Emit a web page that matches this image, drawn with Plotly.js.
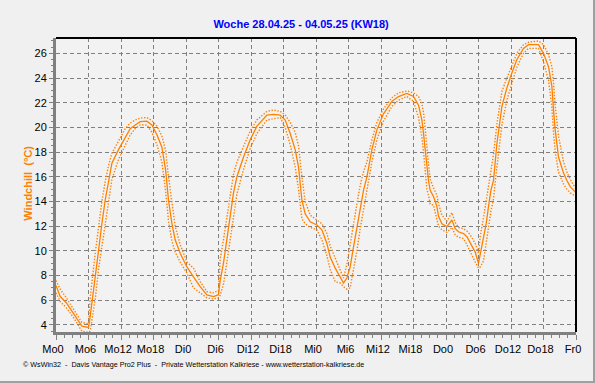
<!DOCTYPE html>
<html>
<head>
<meta charset="utf-8">
<script src="https://cdn.plot.ly/plotly-3.0.1.min.js"></script>
<style>
html,body{margin:0;padding:0;background:#f0f0f0;}
#wrap{position:relative;width:595px;height:383px;overflow:hidden;}
#chart{width:595px;height:383px;}
#frame{position:absolute;left:0;top:0;width:593px;height:381px;border-right:2px solid #a0a0a0;border-bottom:2px solid #a0a0a0;pointer-events:none;}
</style>
</head>
<body>
<div id="wrap"><div id="chart"></div><div id="frame"></div></div>
<script>
// hours since Monday 00:00
const hours = [0.0,0.78,1.9,3.23,4.78,6.0,6.31,7.24,7.85,8.47,9.08,9.69,10.32,11.54,12.78,13.7,14.62,15.54,16.78,17.7,18.63,19.55,20.25,20.77,21.4,22.0,22.93,24.17,25.38,26.62,27.86,29.08,30.0,30.31,30.92,31.55,32.16,32.77,33.4,34.62,35.85,37.09,38.94,40.16,41.39,42.31,43.24,44.16,44.77,45.4,46.0,46.93,48.16,49.09,50.01,50.62,51.55,52.47,53.08,53.7,54.31,54.92,55.55,56.16,56.77,57.4,58.32,59.24,60.46,62.01,63.23,64.78,66.0,66.93,67.55,67.85,68.16,68.47,68.77,69.08,69.69,70.32,70.62,71.24,72.16,73.09,73.7,74.31,75.23,75.86,76.47,77.39,78.0,78.33,78.93,79.42,79.85,80.29,80.77,81.4,82.32,83.24,84.16,85.09,86.31,87.23,89.08,90.0,90.93,91.55,91.85,92.16,92.77,93.7,94.32,94.93,96.0];
const windchill = [7.2,6.3,5.8,4.95,3.9,3.8,4.7,7.9,10.3,12.2,14.1,15.7,17.1,18.2,19.25,19.9,20.2,20.46,20.5,20.2,19.4,18.4,16.5,14.1,12.2,10.9,9.8,8.7,7.9,7.1,6.43,6.3,6.45,7.6,9.0,10.9,12.8,14.7,16.0,17.6,19.0,20.1,21.0,21.06,21.0,20.6,19.5,18.2,16.8,14.1,13.0,12.36,12.1,11.7,10.6,9.5,8.6,7.9,7.4,7.8,8.7,10.3,11.9,13.6,14.9,16.0,18.2,19.8,21.1,22.1,22.5,22.75,22.5,21.8,20.6,19.5,18.2,16.5,15.7,14.9,14.4,13.6,12.8,12.2,11.96,12.5,11.8,11.55,11.4,11.15,10.6,9.9,9.0,9.7,10.9,12.2,13.6,14.9,15.7,18.7,21.7,23.2,24.4,25.5,26.4,26.7,26.7,26.0,24.9,23.3,21.4,19.8,17.6,16.3,15.7,15.2,14.7];
const windchillMax = [7.6,6.9,6.2,5.3,4.2,4.1,6.2,9.8,12.1,14.0,15.6,16.9,17.9,18.9,19.9,20.35,20.6,20.75,20.8,20.55,20.1,19.3,18.1,16.0,13.8,12.0,10.5,9.1,8.6,7.5,6.7,6.6,6.8,9.3,10.9,12.7,14.5,16.2,17.2,18.5,19.7,20.6,21.3,21.4,21.3,21.0,20.4,19.6,18.5,16.0,14.0,12.9,12.5,12.2,11.4,10.4,9.4,8.4,7.8,8.9,10.6,12.2,13.8,15.3,16.4,17.2,19.0,20.4,21.5,22.4,22.8,22.95,22.8,22.5,21.9,21.2,20.0,18.5,17.0,15.8,15.1,14.5,13.8,12.9,12.4,13.1,12.3,11.9,11.8,11.6,11.3,10.6,9.8,11.2,12.7,14.1,15.4,16.6,17.8,20.3,22.9,24.0,25.0,26.0,26.7,26.9,27.0,26.7,25.9,24.9,23.6,21.8,19.3,17.2,16.4,15.8,15.0];
const windchillMin = [6.6,5.9,5.4,4.6,3.5,3.4,3.5,6.1,8.5,10.4,12.4,14.2,15.8,17.4,18.6,19.4,19.9,20.2,20.2,19.6,18.6,17.2,14.8,12.4,10.8,9.9,9.1,8.2,7.0,6.6,6.2,6.1,6.2,6.4,7.3,9.1,10.9,12.9,14.6,16.6,18.3,19.5,20.6,20.7,20.8,20.0,18.6,16.8,15.0,12.6,12.2,11.9,11.7,10.9,9.6,8.5,7.5,7.4,7.1,6.9,7.0,8.5,10.0,11.8,13.3,14.8,17.2,19.0,20.5,21.7,22.2,22.5,22.1,20.8,19.2,18.0,16.5,15.0,14.5,13.8,13.7,12.5,12.0,11.7,11.5,11.9,11.3,11.1,11.0,10.5,9.9,9.1,8.6,8.7,9.2,10.5,11.9,13.2,14.2,16.8,20.2,22.2,23.6,24.9,26.0,26.4,26.4,25.3,23.8,21.6,19.6,18.0,16.4,15.4,15.0,14.7,14.4];
const tickHours = [0,6,12,18,24,30,36,42,48,54,60,66,72,78,84,90,96];
const tickLabels = ["Mo0","Mo6","Mo12","Mo18","Di0","Di6","Di12","Di18","Mi0","Mi6","Mi12","Mi18","Do0","Do6","Do12","Do18","Fr0"];
const yTicks = [4,6,8,10,12,14,16,18,20,22,24,26];

const orange = '#ff8000';
const traces = [
  {x: hours, y: windchillMax, mode:'lines', line:{color:orange, width:1.4, dash:'1.4px,1.6px'}, hoverinfo:'skip'},
  {x: hours, y: windchillMin, mode:'lines', line:{color:orange, width:1.4, dash:'1.4px,1.6px'}, hoverinfo:'skip'},
  {x: hours, y: windchill, mode:'lines', line:{color:orange, width:1.3}}
];
const layout = {
  width:595, height:383,
  paper_bgcolor:'#f0f0f0', plot_bgcolor:'#f2f2f2',
  showlegend:false,
  margin:{l:56, r:19, t:38, b:51, pad:0},
  font:{family:'Liberation Sans, Arial, sans-serif', size:11, color:'#000'},
  title:{text:'<b>Woche 28.04.25 - 04.05.25 (KW18)</b>', font:{family:'Liberation Sans, Arial, sans-serif', size:11, color:'#0000ff'}, x:0.506, xanchor:'center', y:0.936, yanchor:'middle'},
  xaxis:{
    range:[0,96], tickvals:tickHours, ticktext:tickLabels, tickmode:'array',
    showgrid:true, gridcolor:'#808080', griddash:'4px,3px', gridwidth:1,
    zeroline:false, showline:true, linecolor:'#808080', linewidth:3,
    ticks:'outside', ticklen:5, tickcolor:'#808080', tickwidth:1,
    ticklabelshift:-3, ticklabelstandoff:0,
    minor:{dtick:1.5, tick0:0, ticks:'outside', ticklen:3, tickcolor:'#808080', showgrid:false},
    tickfont:{size:11}, fixedrange:true
  },
  yaxis:{
    range:[3.43,27.24], tickvals:yTicks, tickmode:'array',
    showgrid:true, gridcolor:'#808080', griddash:'4px,3px', gridwidth:1,
    zeroline:false, showline:true, linecolor:'#808080', linewidth:3,
    ticks:'outside', ticklen:4, tickcolor:'#808080', tickwidth:1,
    minor:{dtick:0.5, tick0:0, ticks:'outside', ticklen:2, tickcolor:'#808080', showgrid:false},
    tickfont:{size:11},
    fixedrange:true
  },
  shapes:[
    {type:'line', xref:'paper', yref:'paper', x0:0, x1:1, y0:1, y1:1, line:{color:'#000', width:2}},
    {type:'line', xref:'paper', yref:'paper', x0:1, x1:1, y0:0, y1:1, line:{color:'#000', width:2}}
  ],
  annotations:[
    {text:'<b>Windchill  (°C)</b>', xref:'paper', yref:'paper', x:-0.0555, y:0.505, xanchor:'center', yanchor:'middle', textangle:-90, showarrow:false, font:{size:11, color:orange}},
    {text:'© WsWin32  -  Davis Vantage Pro2 Plus  -  Private Wetterstation Kalkriese - www.wetterstation-kalkriese.de', xref:'paper', yref:'paper', x:-0.067, y:-0.11, xanchor:'left', yanchor:'middle', showarrow:false, font:{size:7.2, color:'#000'}}
  ]
};
Plotly.newPlot('chart', traces, layout, {staticPlot:true, displayModeBar:false});
</script>
</body>
</html>
